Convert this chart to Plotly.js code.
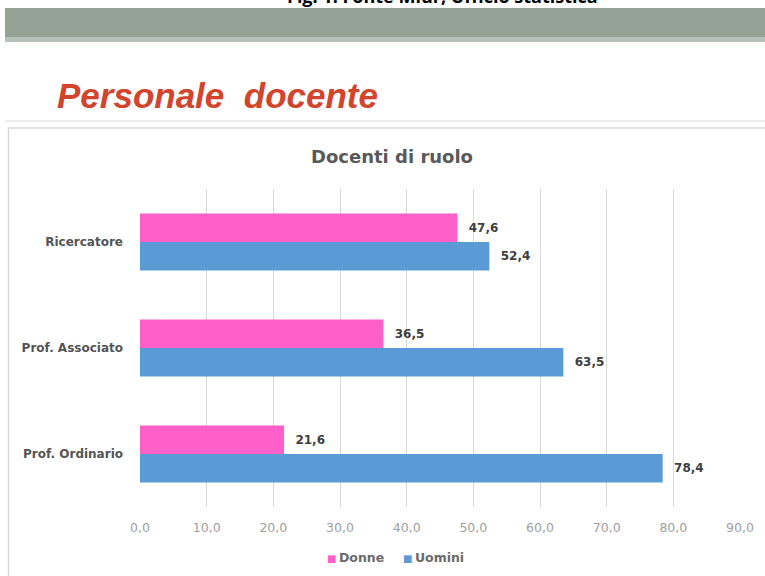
<!DOCTYPE html>
<html>
<head>
<meta charset="utf-8">
<script src="https://cdn.plot.ly/plotly-3.0.1.min.js"></script>
<style>html,body{margin:0;padding:0;background:#fff;}#chart{width:765px;height:576px;}</style>
</head>
<body>
<div id="chart"></div>
<script>
const categories = ["Ricercatore", "Prof. Associato", "Prof. Ordinario"];
const donne = [47.6, 36.5, 21.6];
const uomini = [52.4, 63.5, 78.4];
const seriesNames = ["Donne", "Uomini"];
const seriesColors = ["#FF5FC8", "#5B9BD5"];
const tickValues = [0, 10, 20, 30, 40, 50, 60, 70, 80, 90];

const fmt = v => v.toFixed(1).replace('.', ',');

// pixel -> paper helpers (plot area: x 140..740, y 189..507)
const PL = 140, PR = 740, PT = 189, PB = 507;
const px = x => (x - PL) / (PR - PL);
const py = y => (PB - y) / (PB - PT);

const labelFont = {family: 'DejaVu Sans', size: 12, color: '#404040', weight: 'bold'};

const traces = [donne, uomini].map((vals, i) => ({
  type: 'bar', orientation: 'h', name: seriesNames[i], y: categories, x: vals,
  marker: {color: seriesColors[i]}, hoverinfo: 'x+y', showlegend: false,
  text: vals.map(v => '\u2002\u2009' + fmt(v)), textposition: 'outside', cliponaxis: false,
  textfont: labelFont
}));

// legend drawn as text items built from the series names/colours
const legendItems = seriesNames.map((n, i) =>
  '<span style="color:' + seriesColors[i] + ';font-size:10px">\u25A0</span>\u2009' +
  '<span style="color:#6a6a6a"><b>' + n + '</b></span>').join('\u2003\u2002');

const layout = {
  width: 765, height: 576,
  margin: {l: PL, r: 765 - PR, t: PT, b: 576 - PB, pad: 0},
  paper_bgcolor: '#ffffff', plot_bgcolor: '#ffffff',
  separators: ',.',
  barmode: 'group', bargap: 0.46, bargroupgap: 0,
  showlegend: false,
  font: {family: 'DejaVu Sans', color: '#595959'},
  title: {text: '<b>Docenti di ruolo</b>', x: px(392), xref: 'paper', xanchor: 'center',
          y: 1 - 157 / 576, yanchor: 'middle',
          font: {family: 'DejaVu Sans', size: 18, color: '#595959'}},
  xaxis: {range: [0, 90], tickvals: tickValues, tickformat: '.1f',
          showgrid: true, gridcolor: '#d9d9d9', gridwidth: 1, zeroline: false,
          showline: false, ticks: '', ticklabelstandoff: 11,
          tickfont: {family: 'DejaVu Sans', size: 12.5, color: '#a0a0a0'}, fixedrange: true},
  yaxis: {type: 'category', autorange: 'reversed', showgrid: false, zeroline: false,
          showline: false, ticks: '', ticklabelstandoff: 16,
          tickfont: {family: 'DejaVu Sans', size: 12, color: '#555555', weight: 'bold'}, fixedrange: true},
  shapes: [
    // grey header band
    {type: 'rect', xref: 'paper', yref: 'paper', x0: px(5), x1: px(766), y0: py(40), y1: py(8),
     fillcolor: '#95a296', line: {width: 0}, layer: 'below'},
    {type: 'rect', xref: 'paper', yref: 'paper', x0: px(5), x1: px(766), y0: py(42), y1: py(37),
     fillcolor: '#b7c0b8', line: {width: 0}, layer: 'below'},
    // separator line under heading
    {type: 'line', xref: 'paper', yref: 'paper', x0: px(5), x1: px(766), y0: py(121), y1: py(121),
     line: {color: '#ececec', width: 2}, layer: 'below'},
    // chart box border
    {type: 'rect', xref: 'paper', yref: 'paper', x0: px(8.5), x1: px(770), y0: py(590), y1: py(128),
     fillcolor: 'rgba(0,0,0,0)', line: {color: '#dadada', width: 1.5}, layer: 'below'}
  ],
  annotations: [
    {text: '<b>Fig. 1. Fonte Miur, Ufficio statistica</b>', xref: 'paper', yref: 'paper',
     x: px(442), y: py(-4), xanchor: 'center', yanchor: 'middle', showarrow: false,
     font: {family: 'Open Sans', size: 18, color: '#000000'}},
    {text: '<b><i>Personale\u00a0\u00a0docente</i></b>', xref: 'paper', yref: 'paper',
     x: px(55), y: py(95), xanchor: 'left', yanchor: 'middle', showarrow: false,
     font: {family: 'Liberation Sans', size: 35, color: '#D2452C'}},
    {text: legendItems, xref: 'paper', yref: 'paper',
     x: px(395), y: py(557), xanchor: 'center', yanchor: 'middle', showarrow: false,
     font: {family: 'DejaVu Sans', size: 12.5, color: '#6a6a6a'}}
  ]
};

Plotly.newPlot('chart', traces, layout, {displayModeBar: false, staticPlot: true});
</script>
</body>
</html>
